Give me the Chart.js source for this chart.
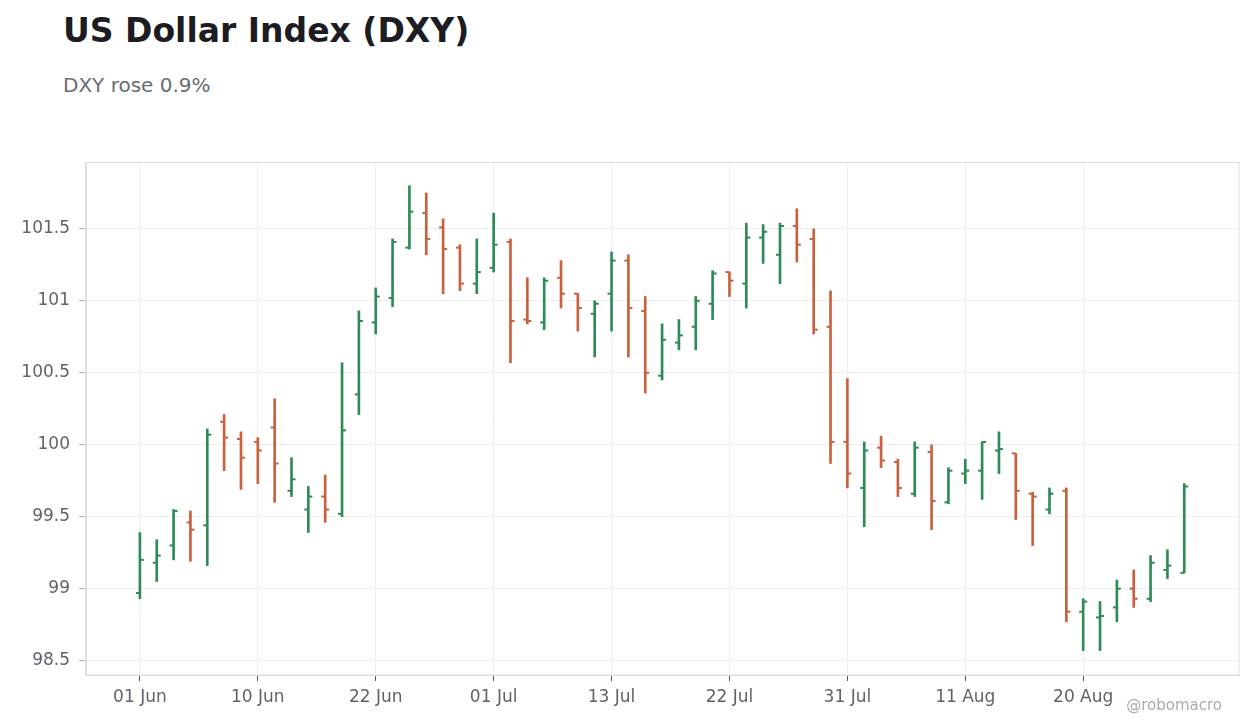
<!DOCTYPE html>
<html>
<head>
<meta charset="utf-8">
<title>US Dollar Index (DXY)</title>
<script src="https://cdn.jsdelivr.net/npm/chart.js@4.4.0/dist/chart.umd.min.js"></script>
<style>
    html, body { margin: 0; padding: 0; background: #ffffff; }
    #wrap { position: relative; width: 1260px; height: 728px; font-family: "DejaVu Sans", sans-serif; }
    #wrap canvas { position: absolute; left: 0; top: 0; }
    .title { position: absolute; left: 63px; top: 11px; font-size: 33px; line-height: 40px; font-weight: bold; color: #1c1c22; white-space: nowrap; }
    .subtitle { position: absolute; left: 63px; top: 72px; font-size: 20px; line-height: 26px; color: #6b6b73; white-space: nowrap; }
    .credit { position: absolute; right: 38px; top: 695px; font-size: 15px; line-height: 20px; color: #ababab; white-space: nowrap; }
</style>
</head>
<body>
<div id="wrap">
    <div class="title">US Dollar Index (DXY)</div>
    <div class="subtitle">DXY rose 0.9%</div>
    <canvas id="dxy-chart" width="1260" height="728"></canvas>
    <div class="credit">@robomacro</div>
</div>
<script>
// trading days shown on the x axis (every 7th one is labelled)
const days = [
    "01 Jun", "02 Jun", "03 Jun", "06 Jun", "07 Jun", "08 Jun", "09 Jun",
    "10 Jun", "13 Jun", "14 Jun", "15 Jun", "16 Jun", "17 Jun", "21 Jun",
    "22 Jun", "23 Jun", "24 Jun", "27 Jun", "28 Jun", "29 Jun", "30 Jun",
    "01 Jul", "05 Jul", "06 Jul", "07 Jul", "08 Jul", "11 Jul", "12 Jul",
    "13 Jul", "14 Jul", "15 Jul", "18 Jul", "19 Jul", "20 Jul", "21 Jul",
    "22 Jul", "25 Jul", "26 Jul", "27 Jul", "28 Jul", "29 Jul", "30 Jul",
    "31 Jul", "01 Aug", "02 Aug", "03 Aug", "04 Aug", "05 Aug", "08 Aug",
    "11 Aug", "12 Aug", "13 Aug", "15 Aug", "16 Aug", "17 Aug", "18 Aug",
    "20 Aug", "22 Aug", "23 Aug", "24 Aug", "25 Aug", "26 Aug", "29 Aug"
];

const opens = [
    98.97, 99.18, 99.30, 99.46, 99.44, 100.16, 100.04,
    100.02, 100.12, 99.68, 99.55, 99.64, 99.52, 100.35,
    100.85, 101.02, 101.37, 101.61, 101.51, 101.37, 101.12,
    101.23, 101.41, 100.87, 100.85, 101.16, 101.05, 100.91,
    101.05, 101.28, 100.93, 100.48, 100.71, 100.82, 100.98,
    101.20, 101.12, 101.44, 101.32, 101.52, 101.43, 100.82,
    100.02, 99.70, 99.98, 99.88, 99.66, 99.95, 99.60,
    99.80, 99.82, 99.96, 99.94, 99.66, 99.55, 99.68,
    98.84, 98.80, 98.87, 99.00, 98.93, 99.13, 99.11
];
const highs = [
    99.39, 99.34, 99.55, 99.54, 100.11, 100.21, 100.09,
    100.05, 100.32, 99.91, 99.71, 99.79, 100.57, 100.93,
    101.09, 101.43, 101.80, 101.75, 101.57, 101.39, 101.43,
    101.61, 101.43, 101.16, 101.16, 101.28, 101.05, 101.00,
    101.34, 101.32, 101.03, 100.84, 100.87, 101.03, 101.21,
    101.20, 101.54, 101.53, 101.54, 101.64, 101.50, 101.07,
    100.46, 100.02, 100.06, 99.90, 100.02, 100.00, 99.84,
    99.90, 100.02, 100.09, 99.94, 99.67, 99.70, 99.70,
    98.93, 98.91, 99.06, 99.13, 99.23, 99.27, 99.73
];
const lows = [
    98.93, 99.05, 99.20, 99.19, 99.16, 99.82, 99.69,
    99.73, 99.60, 99.64, 99.39, 99.46, 99.50, 100.21,
    100.77, 100.96, 101.36, 101.32, 101.05, 101.07, 101.05,
    101.20, 100.57, 100.84, 100.80, 100.95, 100.79, 100.61,
    100.79, 100.61, 100.36, 100.45, 100.66, 100.66, 100.87,
    101.03, 100.95, 101.26, 101.12, 101.27, 100.77, 99.87,
    99.70, 99.43, 99.84, 99.64, 99.64, 99.41, 99.59,
    99.73, 99.62, 99.80, 99.48, 99.30, 99.52, 98.77,
    98.57, 98.57, 98.77, 98.87, 98.91, 99.07, 99.11
];
const closes = [
    99.20, 99.23, 99.54, 99.41, 100.07, 100.05, 99.91,
    99.96, 99.87, 99.76, 99.64, 99.55, 100.10, 100.86,
    101.03, 101.41, 101.62, 101.43, 101.36, 101.12, 101.20,
    101.39, 100.86, 100.86, 101.14, 101.05, 100.95, 100.98,
    101.28, 100.95, 100.50, 100.73, 100.76, 101.00, 101.19,
    101.14, 101.44, 101.48, 101.52, 101.39, 100.80, 100.02,
    99.80, 99.96, 99.89, 99.70, 99.98, 99.61, 99.82,
    99.82, 100.02, 99.97, 99.68, 99.64, 99.66, 98.84,
    98.91, 98.81, 99.00, 98.93, 99.18, 99.16, 99.71
];

const yTicks = [98.5, 99, 99.5, 100, 100.5, 101, 101.5];
const xTickEvery = 7;

const upColor = "#2e8b57";
const downColor = "#c9603e";

function barColor(i) {
    return closes[i] >= opens[i] ? upColor : downColor;
}

// open tick on the left, close tick on the right
const ohlcTicks = {
    id: "ohlcTicks",
    afterDatasetsDraw(chart) {
        const ctx = chart.ctx;
        const xs = chart.scales.x;
        const ys = chart.scales.y;
        const area = chart.chartArea;
        ctx.save();
        ctx.beginPath();
        ctx.rect(area.left, area.top, area.right - area.left, area.bottom - area.top);
        ctx.clip();
        for (let i = 0; i < opens.length; i++) {
            const px = xs.getPixelForValue(i);
            ctx.fillStyle = barColor(i);
            ctx.fillRect(px - 4, ys.getPixelForValue(opens[i]) - 1, 4, 2);
            ctx.fillRect(px, ys.getPixelForValue(closes[i]) - 1, 4, 2);
        }
        ctx.restore();
    }
};

// light frame round the plot
const plotFrame = {
    id: "plotFrame",
    beforeDatasetsDraw(chart) {
        const a = chart.chartArea;
        const ctx = chart.ctx;
        ctx.save();
        ctx.strokeStyle = "#dedede";
        ctx.lineWidth = 1;
        ctx.strokeRect(Math.round(a.left) - 0.5, Math.round(a.top) + 0.5,
            Math.round(a.right - a.left) + 0.5, Math.round(a.bottom - a.top) - 0.5);
        ctx.restore();
    }
};

let dxyChart;

function createDxyChart() {
    const canvas = document.getElementById("dxy-chart");
    dxyChart = new Chart(canvas.getContext("2d"), {
        type: "bar",
        data: {
            datasets: [
                {
                    label: "DXY",
                    data: days.map((d, i) => ({ x: i, y: [lows[i], highs[i]] })),
                    backgroundColor: days.map((d, i) => barColor(i)),
                    borderWidth: 0,
                    barThickness: 2
                }
            ]
        },
        options: {
            responsive: false,
            animation: false,
            layout: {
                padding: { top: 162, right: 21, left: 0, bottom: 0 }
            },
            plugins: {
                legend: { display: false },
                tooltip: { enabled: false }
            },
            scales: {
                x: {
                    type: "linear",
                    offset: false,
                    min: -3.2,
                    max: 65.25,
                    afterBuildTicks: (scale) => {
                        scale.ticks = days
                            .map((d, i) => i)
                            .filter((i) => i % xTickEvery === 0)
                            .map((i) => ({ value: i }));
                    },
                    afterFit: (scale) => { scale.height = 53; },
                    grid: {
                        offset: false,
                        color: "#eeeeee",
                        tickColor: "#555a60",
                        tickLength: 6
                    },
                    border: { color: "#dedede" },
                    ticks: {
                        autoSkip: false,
                        maxRotation: 0,
                        padding: 6,
                        color: "#62626b",
                        font: { family: "DejaVu Sans", size: 17 },
                        callback: (value) => days[value]
                    }
                },
                y: {
                    min: 98.4,
                    max: 101.965,
                    afterBuildTicks: (scale) => {
                        scale.ticks = yTicks.map((v) => ({ value: v }));
                    },
                    afterFit: (scale) => { scale.width = 86; },
                    grid: {
                        color: "#eeeeee",
                        tickColor: "#b5b5b5",
                        tickLength: 7
                    },
                    border: { color: "#dedede" },
                    ticks: {
                        padding: 9,
                        color: "#62626b",
                        font: { family: "DejaVu Sans", size: 17 },
                        callback: (value) => String(value)
                    }
                }
            }
        },
        plugins: [plotFrame, ohlcTicks]
    });
}

createDxyChart();
</script>
</body>
</html>
